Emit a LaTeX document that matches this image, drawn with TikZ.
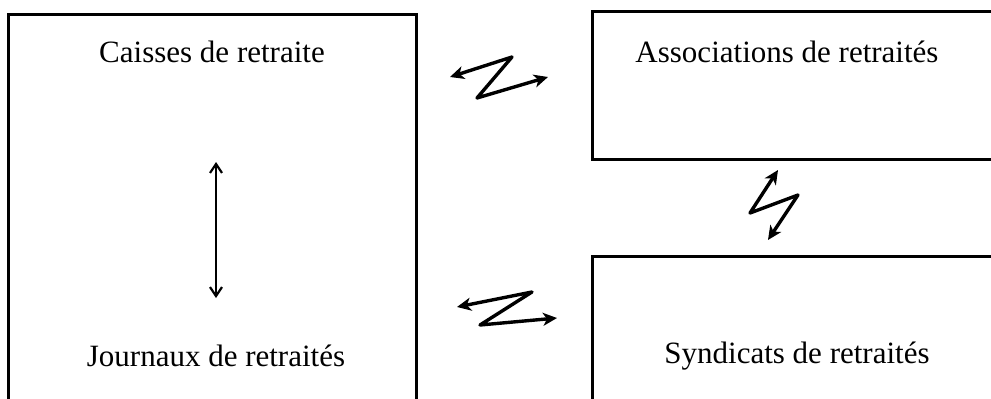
\documentclass[tikz,border=0pt]{standalone}
\usepackage{fontspec}
\setmainfont{Liberation Serif}
\usetikzlibrary{arrows.meta}
\begin{document}
\begin{tikzpicture}[x=1pt,y=-1pt,
  boxline/.style={line width=3pt,line cap=rect},
  lbl/.style={font=\fontsize{31}{36}\selectfont,inner sep=0pt},
  zig/.style={line width=3.4pt,line join=round,{Stealth[length=14pt,width=13pt,inset=4pt]}-{Stealth[length=14pt,width=13pt,inset=4pt]}},
  vert/.style={line width=2.2pt,{Straight Barb[length=9pt,width=12pt]}-{Straight Barb[length=9pt,width=12pt]}}]
\useasboundingbox (0,0) rectangle (991,399);
% boxes
\draw[boxline] (8,401) -- (8,14) -- (416,14) -- (416,401);
\draw[boxline] (993,11) -- (592,11) -- (592,159) -- (993,159);
\draw[boxline] (993,256) -- (592,256) -- (592,401);
% labels
\node[lbl] (caisses) at (212,52) {Caisses de retraite};
\node[lbl] (journaux) at (216,356) {Journaux de retraités};
\node[lbl] (assoc) at (787,52) {Associations de retraités};
\node[lbl] (synd) at (797,356) {Syndicats de retraités};
% vertical arrow
\coordinate (vtop) at (216,162);
\coordinate (vbot) at (216,298);
\draw[vert] (vtop) -- (vbot);
% zigzag top
\coordinate (a1) at (450,77);
\coordinate (a2) at (512,57);
\coordinate (a3) at (477,98);
\coordinate (a4) at (548,77);
\draw[zig] (a1) -- (a2) -- (a3) -- (a4);
% zigzag vertical
\coordinate (b1) at (778,170);
\coordinate (b2) at (750,213);
\coordinate (b3) at (798,195);
\coordinate (b4) at (768,240);
\draw[zig] (b1) -- (b2) -- (b3) -- (b4);
% zigzag bottom
\coordinate (c1) at (457,307);
\coordinate (c2) at (532,292);
\coordinate (c3) at (480,325);
\coordinate (c4) at (557,318);
\draw[zig] (c1) -- (c2) -- (c3) -- (c4);
\end{tikzpicture}
\end{document}
